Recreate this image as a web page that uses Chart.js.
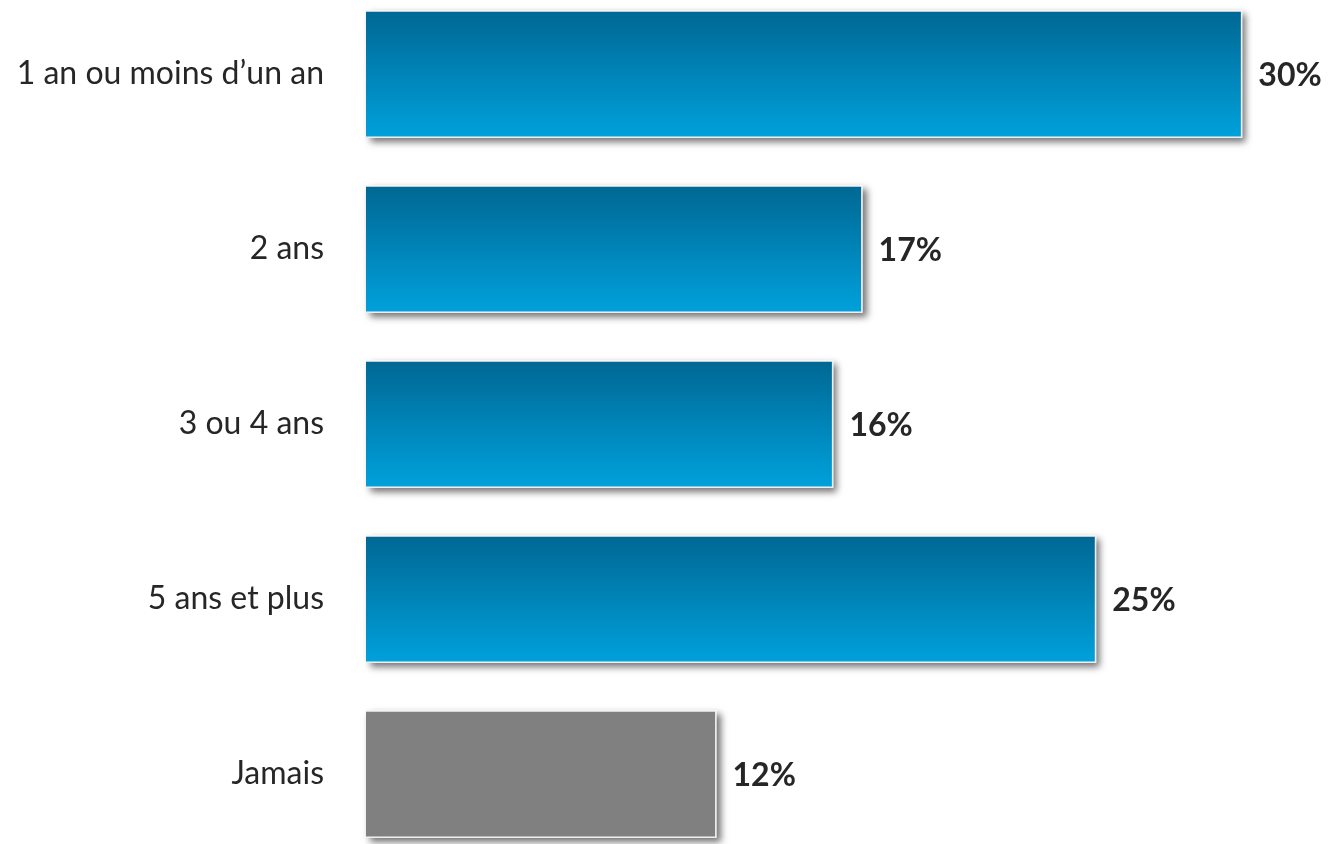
<!DOCTYPE html>
<html>
<head>
<meta charset="utf-8">
<script src="https://cdn.jsdelivr.net/npm/chart.js@4"></script>
<style>
  html, body { margin: 0; padding: 0; background: #fff; }
  #wrap { width: 1340px; height: 844px; position: relative; }
</style>
</head>
<body>
<div id="wrap"><canvas id="graficaDuree"></canvas></div>
<script>
// données
const categories = ["1 an ou moins d’un an", "2 ans", "3 ou 4 ans", "5 ans et plus", "Jamais"];
const valeurs = [30, 17, 16, 25, 12];
const etiquettes = ["30%", "17%", "16%", "25%", "12%"];

const BAR_PCT = 0.73;

// dégradé bleu par barre, gris pour "Jamais"
function couleurBarre(context) {
  const chart = context.chart;
  const i = context.dataIndex;
  if (i === 4) return "#808080";
  const y = chart.scales && chart.scales.y;
  if (!chart.chartArea || !y || y.getPixelForValue(0) === undefined) return "#0088c0";
  const centre = y.getPixelForValue(i);
  const pas = Math.abs(y.getPixelForValue(1) - y.getPixelForValue(0));
  const demi = pas * BAR_PCT / 2;
  const g = chart.ctx.createLinearGradient(0, centre - demi, 0, centre + demi);
  g.addColorStop(0, "#006793");
  g.addColorStop(1, "#00a1dc");
  return g;
}

// ombre portée sous les barres (rectangle blanc ombré dessiné avant chaque barre)
const ombrePlugin = {
  id: "ombre",
  beforeDatasetDraw(chart) {
    const ctx = chart.ctx;
    const meta = chart.getDatasetMeta(0);
    ctx.save();
    ctx.shadowColor = "rgba(0,0,0,0.55)";
    ctx.shadowBlur = 7;
    ctx.shadowOffsetX = 4;
    ctx.shadowOffsetY = 4;
    ctx.fillStyle = "#ffffff";
    meta.data.forEach(bar => {
      const { x, y, base, height } = bar.getProps(["x", "y", "base", "height"], true);
      ctx.fillRect(base, y - height / 2, x - base, height);
    });
    ctx.restore();
  }
};

// pourcentages à droite des barres
const valeursPlugin = {
  id: "valeurs",
  afterDatasetsDraw(chart) {
    const ctx = chart.ctx;
    const meta = chart.getDatasetMeta(0);
    ctx.save();
    ctx.font = "bold 32px Lato, 'Open Sans', sans-serif";
    ctx.fillStyle = "#262626";
    ctx.textAlign = "left";
    ctx.textBaseline = "middle";
    meta.data.forEach((bar, i) => {
      ctx.fillText(etiquettes[i], bar.x + 16, bar.y + 2);
    });
    ctx.restore();
  }
};

new Chart(document.getElementById("graficaDuree"), {
  type: "bar",
  data: {
    labels: categories,
    datasets: [{
      data: valeurs,
      backgroundColor: couleurBarre,
      borderColor: "#f4ecec",
      borderWidth: 1.5,
      barPercentage: BAR_PCT,
      categoryPercentage: 1,
      clip: false
    }]
  },
  options: {
    indexAxis: "y",
    responsive: true,
    maintainAspectRatio: false,
    animation: false,
    layout: { padding: { top: 74, bottom: 70, left: 0, right: 10 } },
    plugins: {
      legend: { display: false },
      tooltip: { enabled: false }
    },
    scales: {
      x: {
        display: false,
        min: 0,
        max: 33
      },
      y: {
        offset: false,
        grid: { display: false, drawTicks: false },
        border: { display: false },
        ticks: {
          padding: 42,
          color: "#262626",
          font: { family: "Lato, 'Open Sans', sans-serif", size: 32 }
        },
        afterFit(scale) { scale.width = 366; }
      }
    }
  },
  plugins: [ombrePlugin, valeursPlugin]
});
</script>
</body>
</html>
